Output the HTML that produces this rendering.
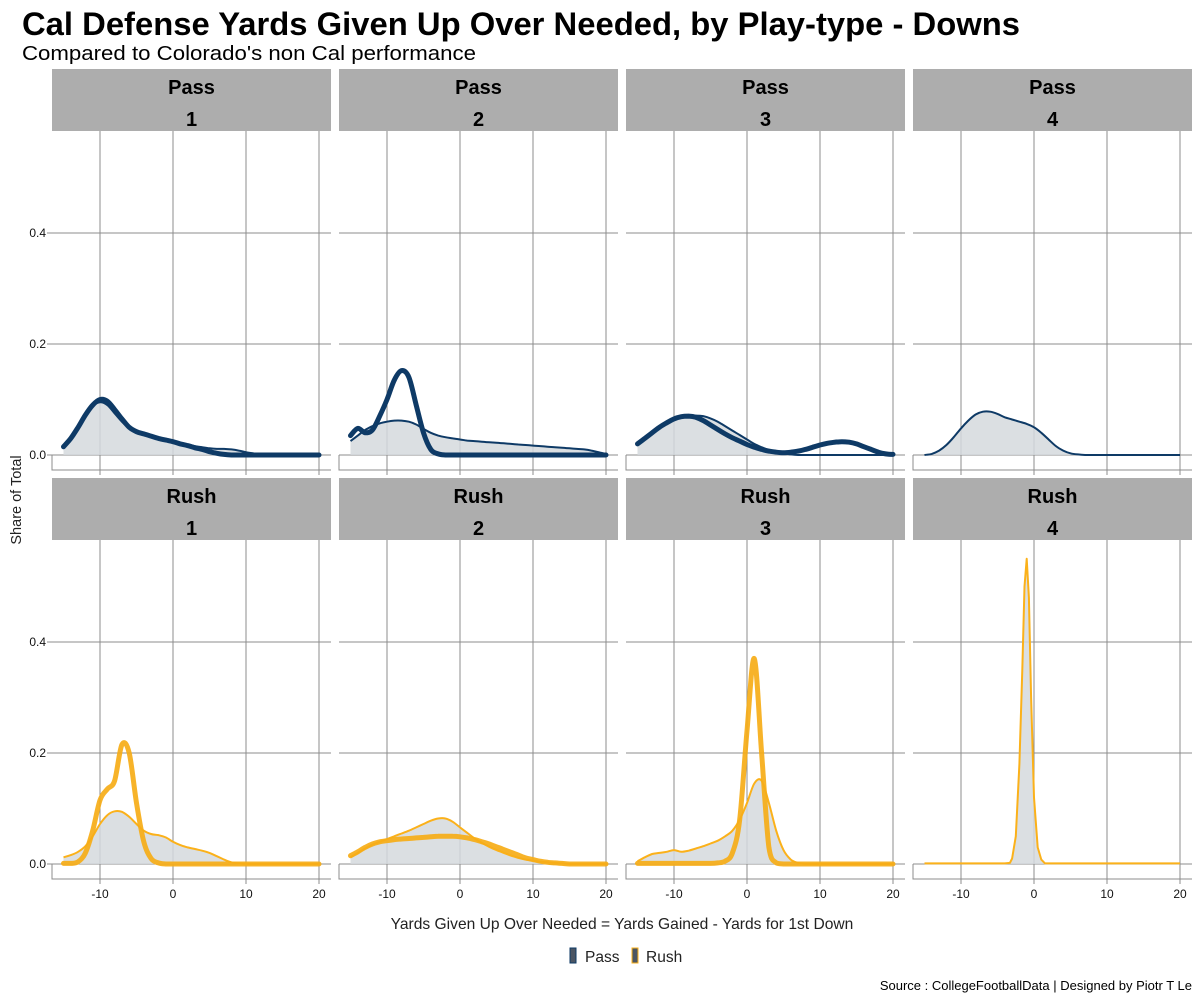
<!DOCTYPE html>
<html><head><meta charset="utf-8">
<style>
body{margin:0;background:#fff;}
svg text{font-family:"Liberation Sans",Arial,sans-serif;}
</style></head>
<body>
<svg id="chart" width="1200" height="1000" viewBox="0 0 1200 1000" xmlns="http://www.w3.org/2000/svg">
<rect width="1200" height="1000" fill="#fff"/>
<text x="22" y="35" font-size="32.5" font-weight="bold" fill="#000" textLength="998" lengthAdjust="spacingAndGlyphs">Cal Defense Yards Given Up Over Needed, by Play-type - Downs</text>
<text x="22" y="60" font-size="20" fill="#000" textLength="454" lengthAdjust="spacingAndGlyphs">Compared to Colorado's non Cal performance</text>
<text transform="translate(21,500) rotate(-90)" text-anchor="middle" font-size="14.5" fill="#222">Share of Total</text>
<text x="622" y="929" text-anchor="middle" font-size="15.6" fill="#222">Yards Given Up Over Needed = Yards Gained - Yards for 1st Down</text>
<g>
<rect x="570" y="948" width="6" height="15" fill="#4b5563" stroke="#0e3a66" stroke-width="1"/>
<text x="585" y="962" font-size="15.5" fill="#222">Pass</text>
<rect x="632" y="948" width="6" height="15" fill="#4b5563" stroke="#fbb11a" stroke-width="1"/>
<text x="646" y="962" font-size="15.5" fill="#222">Rush</text>
</g>
<text x="1192" y="990" text-anchor="end" font-size="13" fill="#000">Source : CollegeFootballData | Designed by Piotr T Le</text>
<g id="panels"></g>
</svg>
<script>
const xs = [-15,-14,-13,-12,-11,-10,-9,-8,-7,-6,-5,-4,-3,-2,-1,0,1,2,3,4,5,6,7,8,9,10,11,12,13,14,15,16,17,18,19,20];
const xTicks = [-10,0,10,20];
const yTicks = [0,0.2,0.4];
const yTickLabels = ["0.0","0.2","0.4"];
const playTypes = ["Pass","Rush"];
const downs = ["1","2","3","4"];

const pass1Other = [0.015,0.03,0.05,0.07,0.088,0.095,0.09,0.075,0.06,0.048,0.04,0.037,0.034,0.031,0.028,0.025,0.022,0.019,0.016,0.014,0.012,0.011,0.011,0.01,0.008,0.005,0.003,0.001,0,0,0,0,0,0,0,0];
const pass1Cal = [0.015,0.03,0.05,0.072,0.09,0.1,0.097,0.082,0.065,0.05,0.042,0.038,0.034,0.03,0.027,0.024,0.02,0.017,0.013,0.01,0.006,0.003,0.001,0,0,0,0,0,0,0,0,0,0,0,0,0];
const pass2Other = [0.025,0.035,0.045,0.052,0.057,0.06,0.062,0.062,0.06,0.055,0.047,0.04,0.035,0.032,0.03,0.028,0.026,0.025,0.024,0.023,0.022,0.021,0.02,0.019,0.018,0.017,0.016,0.015,0.014,0.013,0.012,0.011,0.01,0.008,0.005,0.002];
const pass2Cal = [0.035,0.048,0.04,0.045,0.07,0.1,0.135,0.152,0.14,0.09,0.04,0.01,0.002,0,0,0,0,0,0,0,0,0,0,0,0,0,0,0,0,0,0,0,0,0,0,0];
const pass3Other = [0.02,0.03,0.04,0.05,0.058,0.064,0.068,0.07,0.071,0.07,0.066,0.06,0.052,0.044,0.036,0.028,0.02,0.014,0.009,0.005,0.003,0.001,0,0,0,0,0,0,0,0,0,0,0,0,0,0];
const pass3Cal = [0.02,0.03,0.04,0.05,0.058,0.065,0.069,0.07,0.068,0.062,0.054,0.046,0.038,0.031,0.025,0.019,0.014,0.01,0.007,0.005,0.004,0.005,0.007,0.01,0.014,0.018,0.021,0.023,0.024,0.023,0.02,0.015,0.01,0.005,0.002,0.001];
const pass4Other = [0,0.002,0.008,0.018,0.032,0.048,0.062,0.073,0.078,0.078,0.074,0.068,0.064,0.06,0.056,0.05,0.04,0.028,0.016,0.008,0.003,0.001,0,0,0,0,0,0,0,0,0,0,0,0,0,0];
const rush1Other = [0.012,0.016,0.022,0.032,0.05,0.072,0.088,0.095,0.094,0.085,0.072,0.06,0.054,0.052,0.048,0.04,0.034,0.03,0.027,0.024,0.02,0.014,0.008,0.003,0.001,0,0,0,0,0,0,0,0,0,0,0];
const rush1Cal = [0.001,0.001,0.004,0.02,0.06,0.115,0.135,0.15,0.215,0.2,0.11,0.04,0.01,0.002,0,0,0,0,0,0,0,0,0,0,0,0,0,0,0,0,0,0,0,0,0,0];
const rush2Other = [0.012,0.02,0.028,0.035,0.04,0.045,0.05,0.055,0.06,0.066,0.072,0.078,0.082,0.082,0.076,0.066,0.056,0.046,0.038,0.031,0.025,0.02,0.015,0.011,0.008,0.006,0.004,0.003,0.002,0.001,0,0,0,0,0,0];
const rush2Cal = [0.015,0.022,0.03,0.036,0.04,0.042,0.044,0.045,0.046,0.047,0.048,0.049,0.05,0.05,0.05,0.049,0.047,0.044,0.04,0.036,0.031,0.026,0.021,0.016,0.011,0.008,0.005,0.003,0.002,0.001,0,0,0,0,0,0];
const rush3Other = [0.005,0.012,0.018,0.02,0.022,0.025,0.022,0.024,0.028,0.032,0.037,0.042,0.05,0.06,0.08,0.11,0.145,0.15,0.11,0.06,0.025,0.008,0.002,0,0,0,0,0,0,0,0,0,0,0,0,0];
const rush3Cal = [0.001,0.001,0.001,0.001,0.001,0.001,0.001,0.001,0.001,0.001,0.001,0.002,0.005,0.02,0.08,0.24,0.37,0.2,0.03,0.002,0,0,0,0,0,0,0,0,0,0,0,0,0,0,0,0];
const rush4Xs = [-15,-4,-3.3,-3,-2.5,-2,-1.6,-1.3,-1,-0.7,-0.4,0,0.5,1,1.5,20];
const rush4Other = [0.001,0.001,0.002,0.01,0.05,0.18,0.35,0.5,0.55,0.48,0.3,0.12,0.03,0.008,0.001,0.001];

const seriesOther = [[pass1Other,pass2Other,pass3Other,pass4Other],[rush1Other,rush2Other,rush3Other,rush4Other]];
const seriesCal = [[pass1Cal,pass2Cal,pass3Cal,null],[rush1Cal,rush2Cal,rush3Cal,null]];
const colors = ["#0e3a66","#fbb11a"];
const calColors = ["#0e3a66","#f6ad17"];

const NS="http://www.w3.org/2000/svg";
const colX=[52,339,626,913], W=279;
const stripTop=[69,478], zeroY=[455,864], panelBot=[470,879];
const XPX=7.3, XMIN=-10-48/7.3, YPX=555;
function xScale(c,v){return colX[c]+(v-XMIN)*XPX;}
function yScale(r,v){return zeroY[r]-v*YPX;}
function mk(tag,attrs,parent){const e=document.createElementNS(NS,tag);for(const k in attrs)e.setAttribute(k,attrs[k]);parent.appendChild(e);return e;}
function smoothPath(pts){
  let d="M"+pts[0][0].toFixed(1)+","+pts[0][1].toFixed(1);
  for(let i=0;i<pts.length-1;i++){
    const p0=pts[Math.max(0,i-1)],p1=pts[i],p2=pts[i+1],p3=pts[Math.min(pts.length-1,i+2)];
    let c1y=p1[1]+(p2[1]-p0[1])/6, c2y=p2[1]-(p3[1]-p1[1])/6;
    const base=Math.max(p1[1],p2[1]);
    c1y=Math.min(c1y,base); c2y=Math.min(c2y,base);
    d+=" C"+(p1[0]+(p2[0]-p0[0])/6).toFixed(1)+","+c1y.toFixed(1)+" "+(p2[0]-(p3[0]-p1[0])/6).toFixed(1)+","+c2y.toFixed(1)+" "+p2[0].toFixed(1)+","+p2[1].toFixed(1);
  }
  return d;
}
const root=document.getElementById("panels");
for(let r=0;r<2;r++){
  for(let c=0;c<4;c++){
    const g=mk("g",{},root);
    
    
    const st=mk("rect",{x:colX[c],y:stripTop[r],width:W,height:62,fill:"#adadad"},g);
    
    
    const cx=colX[c]+W/2;
    const t1=mk("text",{x:cx,y:stripTop[r]+25,"text-anchor":"middle","font-size":20,"font-weight":"bold",fill:"#000"},g);
    t1.textContent=playTypes[r];
    
    
    const t2=mk("text",{x:cx,y:stripTop[r]+57,"text-anchor":"middle","font-size":20,"font-weight":"bold",fill:"#000"},g);
    t2.textContent=downs[c];
    
    
    yTicks.forEach((v,i)=>{
      const l=mk("line",{x1:colX[c],x2:colX[c]+W,y1:yScale(r,v),y2:yScale(r,v),stroke:"#8c8c8c","stroke-width":1},g);
      
      
      if(c===0){
        const tk=mk("line",{x1:colX[c]-5,x2:colX[c],y1:yScale(r,v),y2:yScale(r,v),stroke:"#8c8c8c"},g);
        
        
        const tl=mk("text",{x:colX[c]-6,y:yScale(r,v)+4,"text-anchor":"end","font-size":12,fill:"#111"},g);
        tl.textContent=yTickLabels[i];
        
        
      }
    });
    xTicks.forEach(v=>{
      const l=mk("line",{x1:xScale(c,v),x2:xScale(c,v),y1:stripTop[r]+62,y2:panelBot[r]+5,stroke:"#8c8c8c","stroke-width":1},g);
      
      
      if(r===1){
        const tl=mk("text",{x:xScale(c,v),y:panelBot[r]+19,"text-anchor":"middle","font-size":12,fill:"#111"},g);
        tl.textContent=String(v);
        
        
      }
    });
    const ax=mk("path",{d:"M"+colX[c]+","+zeroY[r]+" V"+panelBot[r]+" H"+(colX[c]+W),fill:"none",stroke:"#8c8c8c"},g);
    
    
    const oxs = (r===1&&c===3)?rush4Xs:xs;
    const o=seriesOther[r][c];
    const pts=o.map((v,i)=>[xScale(c,oxs[i]),yScale(r,v)]);
    const d=(r===1&&c===3)?("M"+pts.map(p=>p[0].toFixed(1)+","+p[1].toFixed(1)).join(" L")):smoothPath(pts);
    const area=mk("path",{d:d+" L"+pts[pts.length-1][0].toFixed(1)+","+zeroY[r]+" L"+pts[0][0].toFixed(1)+","+zeroY[r]+" Z",fill:"#d5d9dd","fill-opacity":0.85,stroke:"none"},g);
    
    
    const ol=mk("path",{d:d,fill:"none",stroke:colors[r],"stroke-width":2,"stroke-linejoin":"round"},g);
    
    
    const cal=seriesCal[r][c];
    if(cal){
      const cp=cal.map((v,i)=>[xScale(c,xs[i]),yScale(r,v)]);
      const cl=mk("path",{d:smoothPath(cp),fill:"none",stroke:calColors[r],"stroke-width":5,"stroke-linecap":"round","stroke-linejoin":"round","stroke-opacity":r===1?0.92:1},g);
      
      
    }
  }
}
</script>
</body></html>
